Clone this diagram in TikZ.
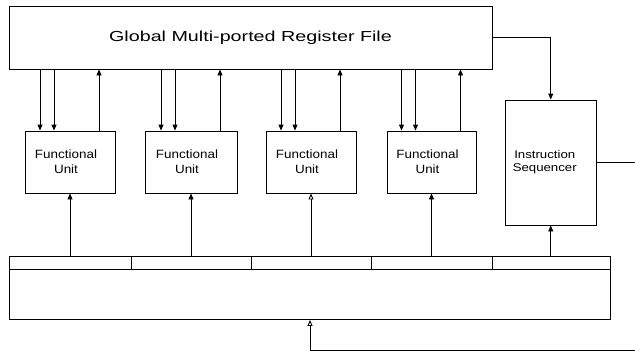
\documentclass[tikz,border=0pt]{standalone}
\usepackage{fontspec}
\setmainfont{Liberation Sans}
\newfontfamily\rffont[FakeStretch=1.36]{Liberation Sans}
\newfontfamily\fufont[FakeStretch=1.12]{Liberation Sans}
\newfontfamily\isfont[FakeStretch=1.18]{Liberation Sans}
\usetikzlibrary{arrows.meta,calc}
\begin{document}
\begin{tikzpicture}[x=1pt,y=-1pt,
  box/.style={draw,line width=0.9pt,inner sep=0pt,rectangle},
  fubox/.style={box,minimum width=90pt,minimum height=62pt},
  fulabel/.style={align=center,inner sep=0pt,font=\fufont\fontsize{12}{14.7}\selectfont},
  slot/.style={box,minimum height=13pt},
  arr/.style={line width=0.9pt,-{Triangle[width=5pt,length=6pt]}},
  oarr/.style={line width=0.9pt,-{Triangle[open,width=5pt,length=6pt]}},
  ln/.style={line width=0.9pt}]
\useasboundingbox (0,0) rectangle (635,351);

% register file
\node[box,minimum width=483pt,minimum height=62.5pt,
      font=\rffont\fontsize{14.5}{17}\selectfont] (rf) at (250.5,37.75) {Global Multi-ported Register File};

% functional units
\node[fubox] (fu1) at (70,162) {};
\node[fubox,minimum width=92pt] (fu2) at (191,162) {};
\node[fubox] (fu3) at (311,162) {};
\node[fubox,minimum width=89pt] (fu4) at (431.5,162) {};
\node[fulabel] (fu1t) at ([xshift=-4pt]fu1.center) {Functional\\Unit};
\node[fulabel] (fu2t) at ([xshift=-4pt]fu2.center) {Functional\\Unit};
\node[fulabel] (fu3t) at ([xshift=-4pt]fu3.center) {Functional\\Unit};
\node[fulabel] (fu4t) at ([xshift=-4pt]fu4.center) {Functional\\Unit};

% instruction sequencer
\node[box,minimum width=90.5pt,minimum height=125pt] (is) at (550.75,162.5) {};
\node[align=center,inner sep=0pt,font=\isfont\fontsize{11.2}{13}\selectfont] (ist) at ([xshift=-6pt]is.center) {Instruction\\Sequencer};

% bottom box with slots
\node[box,minimum width=601pt,minimum height=63.5pt] (bb) at (310,287.75) {};
\node[slot,minimum width=121.5pt] (s1) at (70.25,262.5) {};
\node[slot,minimum width=120pt] (s2) at (191,262.5) {};
\node[slot,minimum width=120pt] (s3) at (311,262.5) {};
\node[slot,minimum width=121pt] (s4) at (431.5,262.5) {};
\node[slot,minimum width=118.5pt] (s5) at (551.25,262.5) {};

% register file <-> functional units
\foreach \f in {fu1,fu2,fu3,fu4}{
  \draw[arr] ([xshift=-30pt]\f.north |- rf.south) -- ([xshift=-30pt]\f.north);
  \draw[arr] ([xshift=-16pt]\f.north |- rf.south) -- ([xshift=-16pt]\f.north);
  \draw[arr] ([xshift=29pt]\f.north) -- ([xshift=29pt]\f.north |- rf.south);
}

% slots -> units
\draw[arr] (s1.north -| fu1.south) -- (fu1.south);
\draw[arr] (s2.north -| fu2.south) -- (fu2.south);
\draw[oarr] (s3.north -| fu3.south) -- (fu3.south);
\draw[arr] (s4.north -| fu4.south) -- (fu4.south);
\draw[arr] (s5.north -| is.south) -- (is.south);

% register file -> sequencer
\draw[arr] (rf.east) -| (is.north);

% sequencer output
\coordinate (isout) at (635,162.5);
\draw[ln] (is.east) -- (isout);

% feedback
\coordinate (fb) at (635,350);
\draw[oarr] (fb) -| (bb.south);
\end{tikzpicture}
\end{document}
